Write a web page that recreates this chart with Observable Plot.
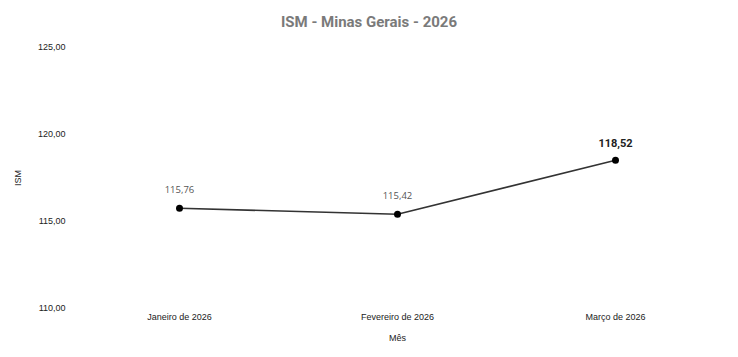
<!DOCTYPE html>
<html><head><meta charset="utf-8">
<script src="https://cdn.jsdelivr.net/npm/d3@7"></script>
<script src="https://cdn.jsdelivr.net/npm/@observablehq/plot@0.6"></script>
<style>
body{margin:0;background:#fff;}
#title{height:40px;line-height:44px;text-align:center;font-family:Roboto,"Liberation Sans",sans-serif;font-weight:bold;font-size:15px;color:#7a7a7a;}
</style></head>
<body>
<div id="title">ISM - Minas Gerais - 2026</div>
<div id="chart"></div>
<script>
const months = ["Janeiro de 2026", "Fevereiro de 2026", "Março de 2026"];
const ismValues = [115.76, 115.42, 118.52];
const yTicks = [110, 115, 120, 125];

const data = months.map((m, i) => ({mes: m, ism: ismValues[i], last: i === months.length - 1}));
const fmt = v => v.toFixed(2).replace(".", ",");

const chart = Plot.plot({
  width: 738,
  height: 317,
  marginTop: 7,
  marginBottom: 49,
  marginLeft: 70,
  marginRight: 14,
  style: {fontFamily: "'Liberation Sans', Arial, sans-serif", fontSize: "9px", color: "#222", background: "#fff"},
  x: {type: "point", domain: months, range: [178, 615], padding: 0},
  y: {domain: [110, 125]},
  marks: [
    Plot.axisY({ticks: yTicks, tickSize: 0, tickPadding: 5, tickFormat: fmt, label: "ISM", labelAnchor: "center", labelArrow: "none", labelOffset: 56, fontSize: 9}),
    Plot.axisX({tickSize: 0, tickPadding: 5, label: "Mês", labelAnchor: "center", labelArrow: "none", labelOffset: 32, fontSize: 9}),
    Plot.line(data, {x: "mes", y: "ism", stroke: "#333", strokeWidth: 1.6}),
    Plot.dot(data, {x: "mes", y: "ism", r: 3.5, fill: "#000"}),
    Plot.text(data.filter(d => !d.last), {x: "mes", y: "ism", text: d => fmt(d.ism), dy: -18, fill: "#555", fontSize: 9.5, fontFamily: "'Open Sans', sans-serif"}),
    Plot.text(data.filter(d => d.last), {x: "mes", y: "ism", text: d => fmt(d.ism), dy: -17, fill: "#222", fontSize: 11, fontWeight: "bold", fontFamily: "Roboto, sans-serif"})
  ]
});
document.getElementById("chart").appendChild(chart);
</script>
</body></html>
